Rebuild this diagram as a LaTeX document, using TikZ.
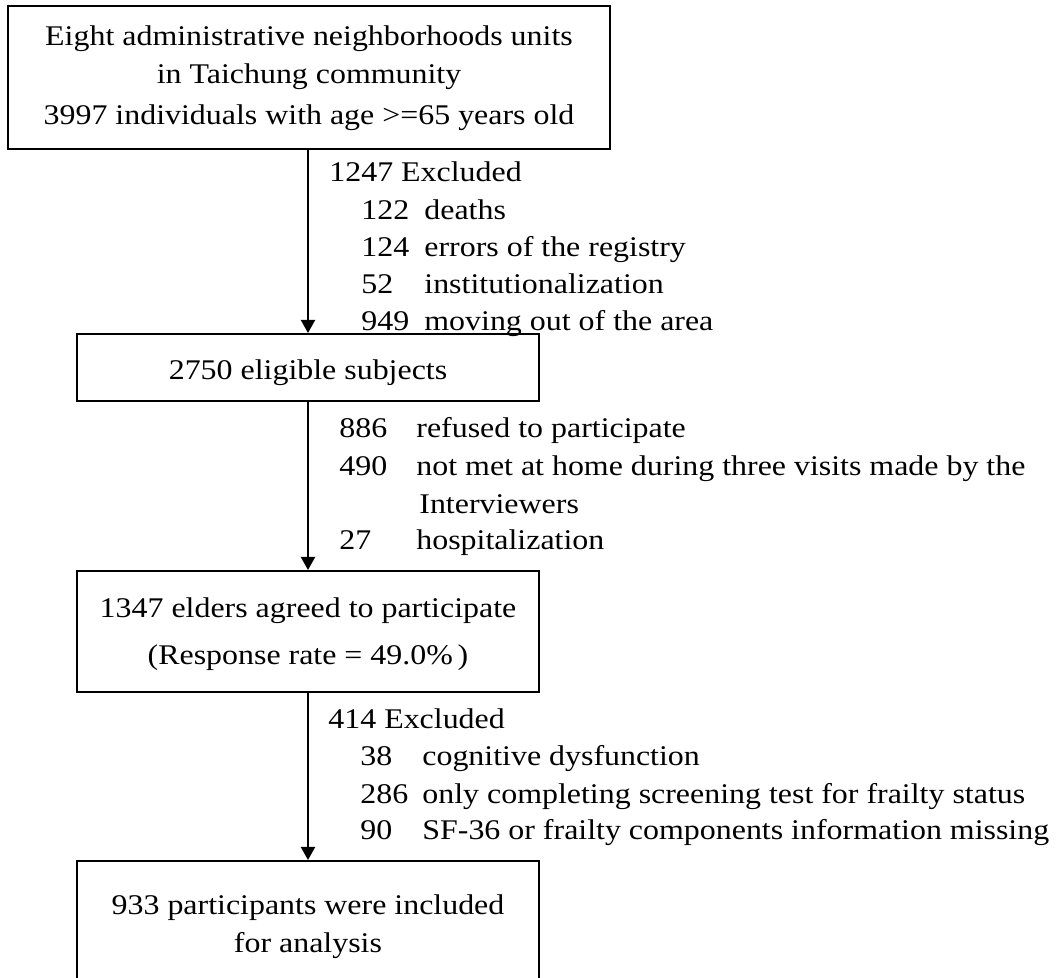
\documentclass[tikz,border=0pt]{standalone}
\usepackage{fontspec}
\setmainfont{Liberation Serif}[FakeStretch=1.12]
\usetikzlibrary{arrows.meta}
\newcommand\dgfont{\fontsize{14.25pt}{18pt}\selectfont}
\begin{document}
\begin{tikzpicture}[x=0.5pt,y=-0.5pt,
  box/.style={draw, line width=1pt, inner sep=0pt, rectangle},
  txt/.style={inner sep=0pt, anchor=base west, font=\dgfont},
  ctr/.style={inner sep=0pt, anchor=base, font=\dgfont},
  arr/.style={line width=1pt, -{Triangle[width=7pt,length=6.5pt]}}]
\useasboundingbox (0,0) rectangle (1057,978);
\clip (0,0) rectangle (1057,978);
% boxes
\node[box, minimum width=301pt, minimum height=71.5pt] (b1) at (309,77.5) {};
\node[box, minimum width=231pt, minimum height=33.5pt] (b2) at (308,367.5) {};
\node[box, minimum width=231pt, minimum height=60.5pt] (b3) at (308,631.5) {};
\node[box, minimum width=231pt, minimum height=75pt] (b4) at (308,936) {};
% box texts
\node[ctr] (t1a) at (309,46) {Eight administrative neighborhoods units};
\node[ctr] (t1b) at (309,84) {in Taichung community};
\node[ctr] (t1c) at (309,125) {3997 individuals with age >=65 years old};
\node[ctr] (t2) at (308,380) {2750 eligible subjects};
\node[ctr] (t3a) at (308,618) {1347 elders agreed to participate};
\node[ctr] (t3b) at (308,665) {(Response rate = 49.0\%\,)};
\node[ctr] (t4a) at (308,915) {933 participants were included};
\node[ctr] (t4b) at (308,953) {for analysis};
% arrows
\draw[arr] (b1.south -| b2.north) -- (b2.north);
\draw[arr] (b2.south) -- (b3.north);
\draw[arr] (b3.south) -- (b4.north);
% group 1
\node[txt] (g1h) at (329,182) {1247 Excluded};
\node[txt] (g1n1) at (361,220) {122};
\node[txt] (g1t1) at (424,220) {deaths};
\node[txt] (g1n2) at (361,257) {124};
\node[txt] (g1t2) at (424,257) {errors of the registry};
\node[txt] (g1n3) at (361,294) {52};
\node[txt] (g1t3) at (424,294) {institutionalization};
\node[txt] (g1n4) at (361,331) {949};
\node[txt] (g1t4) at (424,331) {moving out of the area};
% group 2
\node[txt] (g2n1) at (339,438) {886};
\node[txt] (g2t1) at (416,438) {refused to participate};
\node[txt] (g2n2) at (339,476) {490};
\node[txt] (g2t2) at (416,476) {not met at home during three visits made by the};
\node[txt] (g2t2b) at (419,514) {Interviewers};
\node[txt] (g2n3) at (339,550) {27};
\node[txt] (g2t3) at (416,550) {hospitalization};
% group 3
\node[txt] (g3h) at (328,729) {414 Excluded};
\node[txt] (g3n1) at (360,766) {38};
\node[txt] (g3t1) at (422,766) {cognitive dysfunction};
\node[txt] (g3n2) at (360,804) {286};
\node[txt] (g3t2) at (422,804) {only completing screening test for frailty status};
\node[txt] (g3n3) at (360,840) {90};
\node[txt] (g3t3) at (422,840) {SF-36 or frailty components information missing};
\end{tikzpicture}
\end{document}
